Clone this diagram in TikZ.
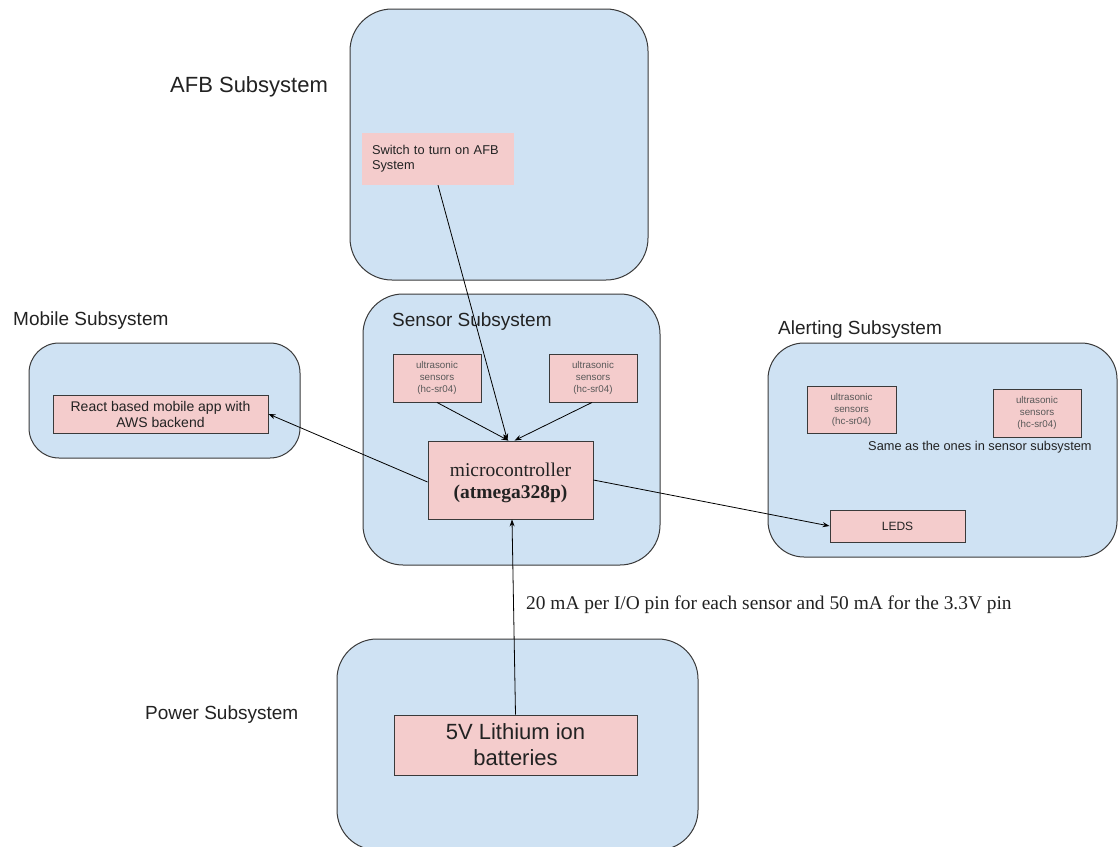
\documentclass[tikz,border=0pt]{standalone}
\usepackage{fontspec}
\setmainfont{Liberation Sans}
\newfontfamily\tnr{Liberation Serif}
\usetikzlibrary{arrows.meta}
\definecolor{subblue}{HTML}{CFE2F3}
\definecolor{partpink}{HTML}{F4CCCC}
\definecolor{edgegray}{HTML}{3A3A3A}
\definecolor{txtgray}{HTML}{222222}
\tikzset{
  subsys/.style={draw=edgegray, fill=subblue, line width=1pt, inner sep=0pt},
  part/.style={draw=edgegray, fill=partpink, line width=0.9pt, inner sep=2pt, align=center, text=txtgray},
  bare/.style={fill=partpink, inner sep=0pt, text=txtgray},
  lbl/.style={inner sep=0pt, anchor=base west, text=txtgray},
  conn/.style={draw=black, line width=0.8pt, -{Stealth[length=7pt,width=5pt]}},
  tiny/.style={font=\fontsize{9.8}{12}\selectfont, text=black!65}
}
\begin{document}
\begin{tikzpicture}[x=1pt,y=-1pt]
\useasboundingbox[fill=white] (0,0) rectangle (1118,846);

% subsystem containers
\node[subsys, rounded corners=42pt, minimum width=298pt, minimum height=271pt] (afb) at (499,144.5) {};
\node[subsys, rounded corners=40pt, minimum width=297pt, minimum height=271pt] (sensor) at (511.5,429.5) {};
\node[subsys, rounded corners=30pt, minimum width=271pt, minimum height=115pt] (mobile) at (164.5,400.5) {};
\node[subsys, rounded corners=36pt, minimum width=349pt, minimum height=214pt] (alert) at (942.5,450) {};
\node[subsys, rounded corners=40pt, minimum width=361pt, minimum height=211pt] (power) at (517.5,744.5) {};

% titles
\node[lbl, font=\fontsize{22}{26}\selectfont] (tafb) at (170,92) {AFB Subsystem};
\node[lbl, font=\fontsize{19}{22}\selectfont] (tmob) at (13,325) {Mobile Subsystem};
\node[lbl, font=\fontsize{19}{22}\selectfont] (tsen) at (392,326) {Sensor Subsystem};
\node[lbl, font=\fontsize{19}{22}\selectfont] (tale) at (778,334) {Alerting Subsystem};
\node[lbl, font=\fontsize{19}{22}\selectfont] (tpow) at (145,719) {Power Subsystem};

% parts
\node[bare, minimum width=152pt, minimum height=52pt, text width=132pt, align=left,
      font=\fontsize{12.8}{15}\selectfont] (sw) at (438,159) {Switch to turn on AFB\\System};
\node[part, tiny, minimum width=88pt, minimum height=48pt] (s1) at (437,378) {ultrasonic\\sensors\\(hc-sr04)};
\node[part, tiny, minimum width=88pt, minimum height=48pt] (s2) at (593,378) {ultrasonic\\sensors\\(hc-sr04)};
\node[part, minimum width=165pt, minimum height=78pt, font=\tnr\fontsize{19.5}{22}\selectfont] (mc) at (510.5,480) {};
\node[inner sep=0pt, align=center, text=txtgray, font=\tnr\fontsize{19.5}{22}\selectfont] (mctext) at (510.5,483) {microcontroller\\\textbf{(atmega328p)}};
\node[part, minimum width=215pt, minimum height=38pt, font=\fontsize{14}{16}\selectfont] (react) at (160.5,414) {React based mobile app with\\AWS backend};
\node[part, tiny, minimum width=89pt, minimum height=47pt] (as1) at (851.5,409.5) {ultrasonic\\sensors\\(hc-sr04)};
\node[part, tiny, minimum width=88pt, minimum height=48pt] (as2) at (1037,413) {ultrasonic\\sensors\\(hc-sr04)};
\node[lbl, font=\fontsize{12.8}{15}\selectfont] (same) at (868,450) {Same as the ones in sensor subsystem};
\node[part, minimum width=135pt, minimum height=32pt, font=\fontsize{12}{14}\selectfont] (leds) at (897.5,526) {LEDS};
\node[part, minimum width=243pt, minimum height=60pt, font=\fontsize{22}{26}\selectfont] (batt) at (515.5,745) {5V Lithium ion\\batteries};

% current note
\node[lbl, font=\tnr\fontsize{19.4}{22}\selectfont] (note) at (526,609) {20 mA per I/O pin for each sensor and 50 mA for the 3.3V pin};

% connectors
\draw[conn] (sw.south) -- ([xshift=-3pt]mc.north);
\draw[conn] (s1.south) -- ([xshift=-2pt]mc.north);
\draw[conn] ([xshift=-1pt]s2.south) -- ([xshift=4pt]mc.north);
\draw[conn] ([yshift=-2pt]mc.west) -- (react.east);
\draw[conn] (mc.east) -- (leds.west);
\draw[conn] (batt.north) -- ([xshift=1.5pt]mc.south);
\end{tikzpicture}
\end{document}
